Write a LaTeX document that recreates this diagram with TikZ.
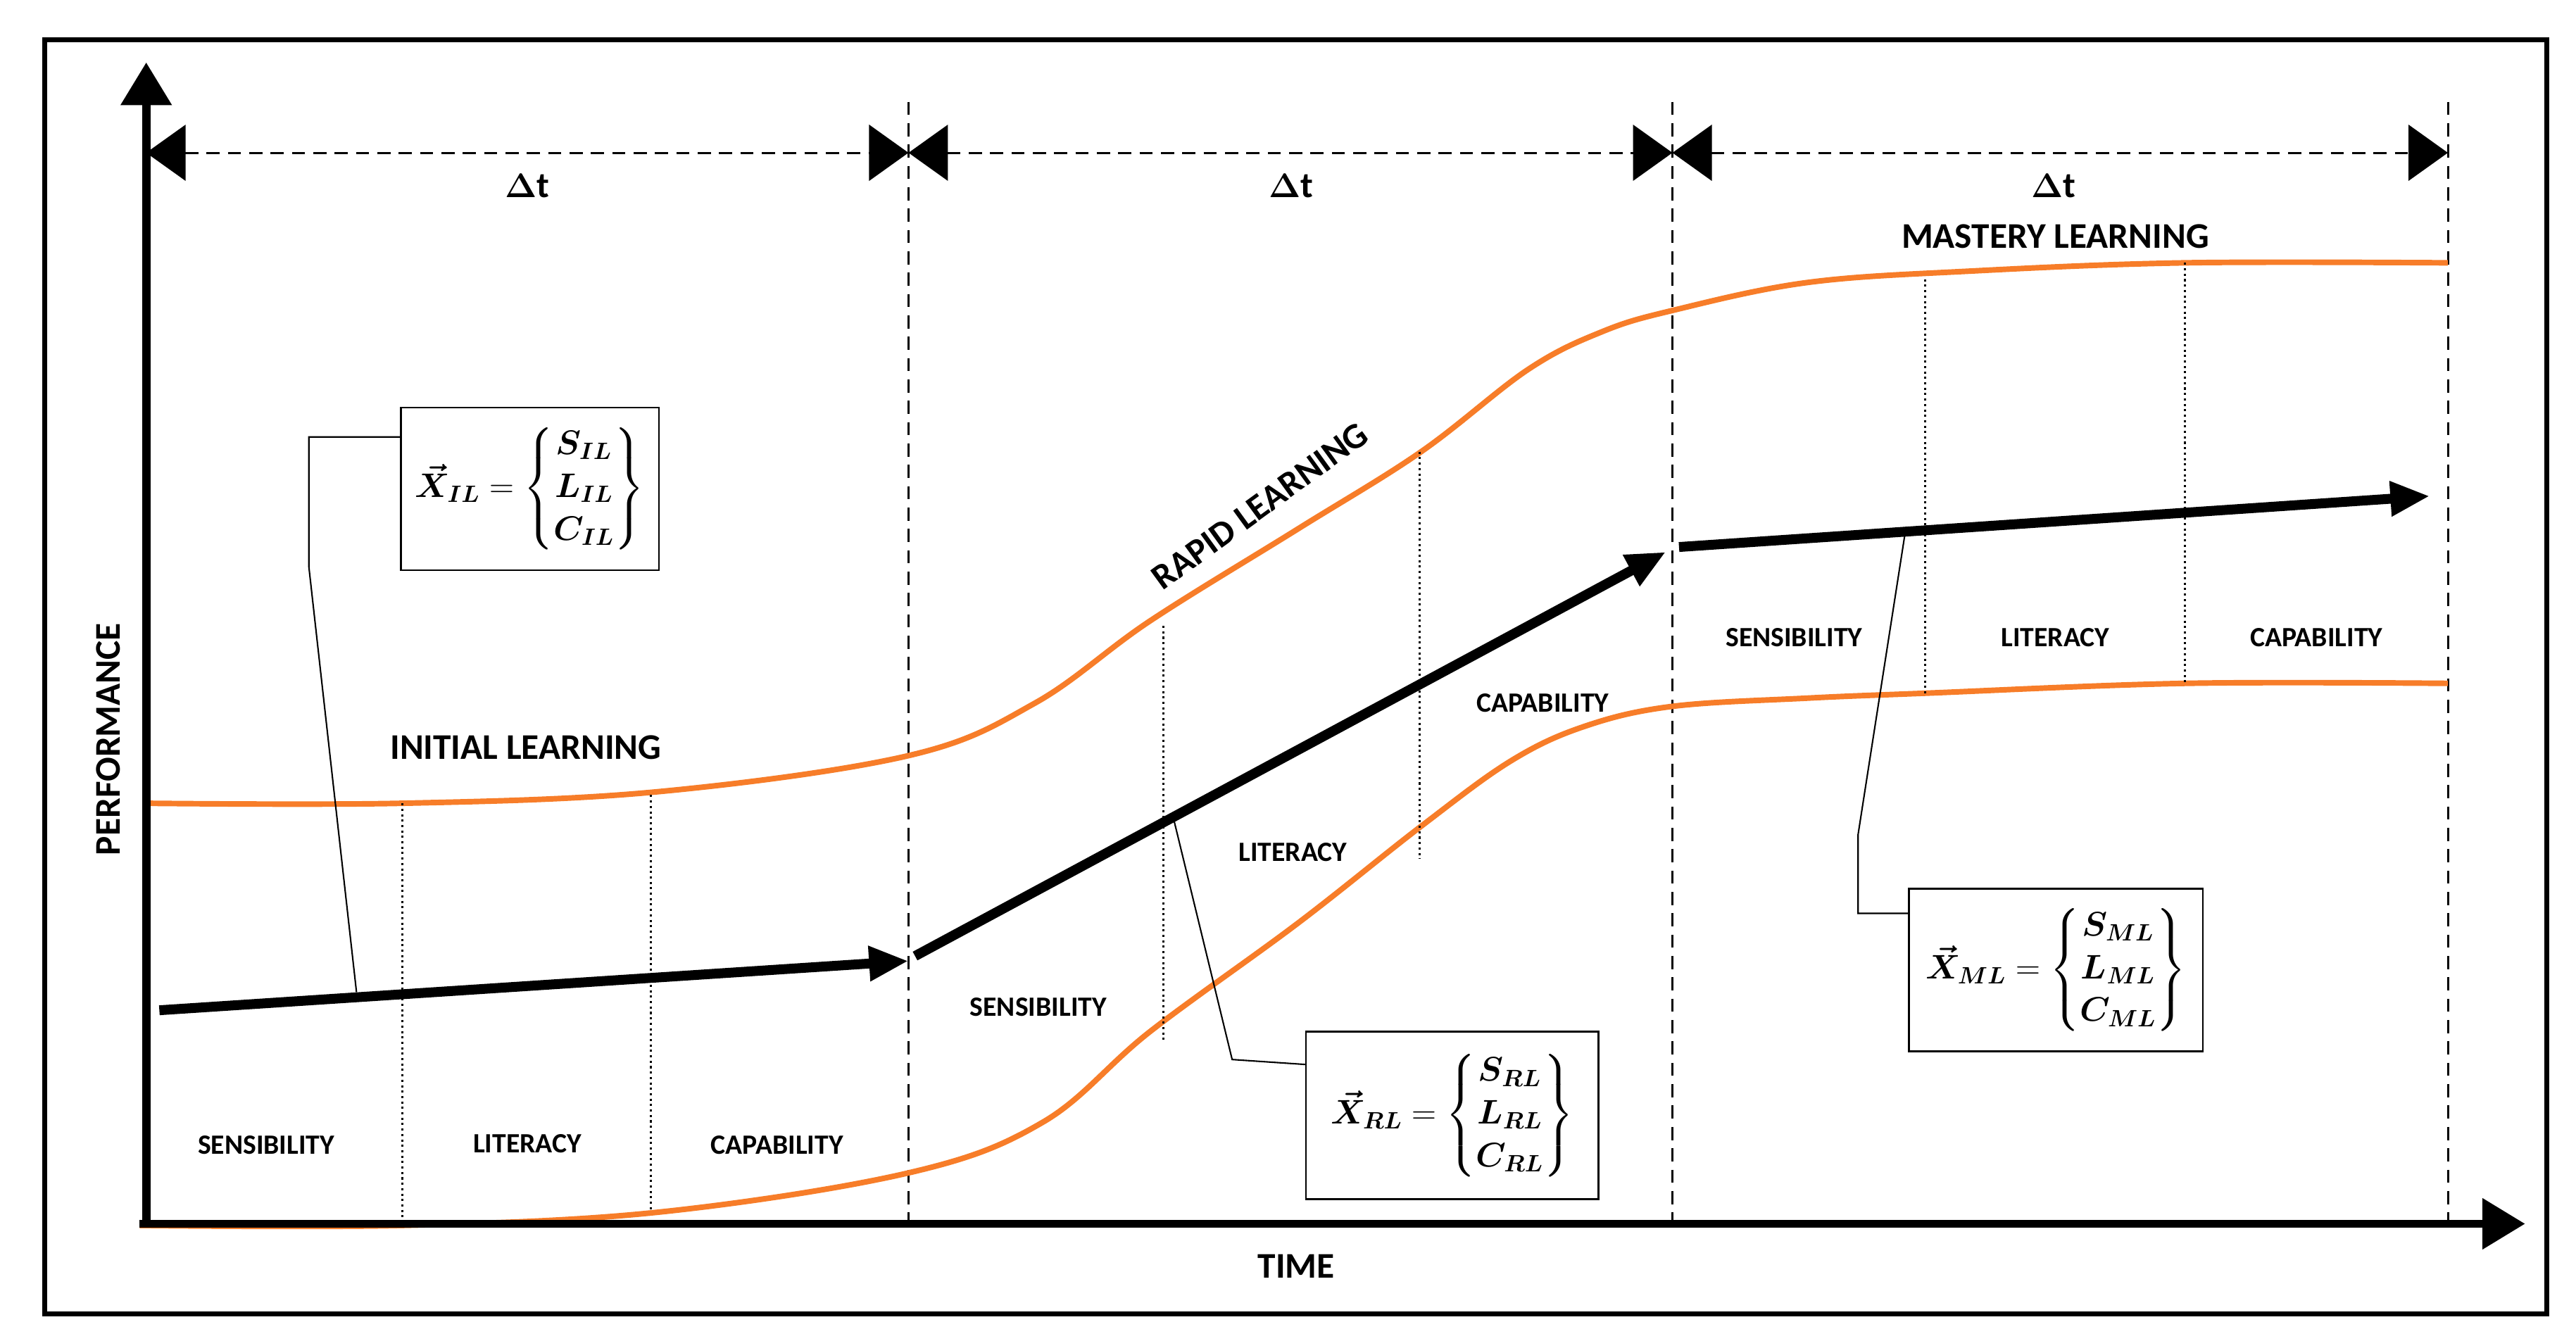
\documentclass[tikz,border=0pt]{standalone}
\usepackage{amsmath,bm}
\usepackage{fontspec}
\setmainfont{Carlito}
\usetikzlibrary{arrows.meta}
\begin{document}
\begin{tikzpicture}[x=1pt,y=-1pt,
 lab/.style={font=\bfseries\fontsize{17}{19}\selectfont},
 big/.style={font=\bfseries\fontsize{22}{25}\selectfont},
 org/.style={draw={rgb,255:red,247;green,125;blue,41},line width=3.4pt},
 dotv/.style={dotted,line width=1.3pt},
 dashv/.style={dashed,line width=1.3pt,dash pattern=on 8pt off 5pt},
 blk/.style={line width=6pt,-{Triangle[length=24pt,width=20pt]}},
 box/.style={draw,line width=1pt,fill=white,inner sep=2pt,font=\fontsize{22}{26}\selectfont},
 call/.style={line width=0.9pt},
 dim/.style={dashv,{Triangle[length=24pt,width=34pt]}-{Triangle[length=24pt,width=34pt]}}]
\useasboundingbox (0,0) rectangle (1568,816);
\draw[line width=3pt] (27,24) rectangle (1550,800);
% dashed verticals
\coordinate (v1t) at (553,62); \coordinate (v1b) at (553,748);
\coordinate (v2t) at (1018,62); \coordinate (v2b) at (1018,748);
\coordinate (v3t) at (1490,62); \coordinate (v3b) at (1490,748);
\draw[dashv] (v1t)--(v1b); \draw[dashv] (v2t)--(v2b); \draw[dashv] (v3t)--(v3b);
% dimension arrows
\coordinate (d0) at (89,93); \coordinate (d1) at (553,93); \coordinate (d2) at (1018,93); \coordinate (d3) at (1490,93);
\draw[dim] (d0)--(d1); \draw[dim] (d1)--(d2); \draw[dim] (d2)--(d3);
\node[big] (dt1) at (321,113) {$\bm\Delta$t};
\node[big] (dt2) at (786,113) {$\bm\Delta$t};
\node[big] (dt3) at (1250,113) {$\bm\Delta$t};
% orange curves
\draw[org] plot[smooth,tension=0.6] coordinates {(89,489) (245,489) (400,482) (553,460) (630,428) (700,378) (790,322) (865,275) (930,225) (975,202) (1018,189) (1100,172) (1200,165) (1330,160) (1490,160)};
\draw[org] plot[smooth,tension=0.6] coordinates {(85,746) (245,746) (400,738) (553,714) (635,683) (700,628) (790,562) (865,503) (920,463) (965,442) (1018,430) (1100,425) (1172,422) (1330,416) (1490,416)};
% dotted verticals
\draw[dotv] (245,489)--(245,745); \draw[dotv] (396,484)--(396,737);
\draw[dotv] (708,381)--(708,633); \draw[dotv] (864,275)--(864,523);
\draw[dotv] (1172,170)--(1172,422); \draw[dotv] (1330,160)--(1330,416);
% axes
\coordinate (o) at (89,745); \coordinate (ytop) at (89,38); \coordinate (xr) at (1537,745); \coordinate (xl) at (85,745);
\draw[line width=5pt,-{Triangle[length=26pt,width=30pt]}] (o)--(ytop);
\draw[line width=5pt,-{Triangle[length=26pt,width=30pt]}] (xl)--(xr);
\node[big,rotate=90] (perf) at (66,450) {PERFORMANCE};
\node[big] (time) at (789,771) {TIME};
% black arrows
\coordinate (a1s) at (97,615); \coordinate (a1e) at (553,585);
\coordinate (a2s) at (557,582); \coordinate (a2e) at (1014,336);
\coordinate (a3s) at (1022,333); \coordinate (a3e) at (1479,302);
\draw[blk] (a1s)--(a1e); \draw[blk] (a2s)--(a2e); \draw[blk] (a3s)--(a3e);
% labels
\node[lab] (s1) at (162,697) {SENSIBILITY};
\node[lab] (l1) at (321,696) {LITERACY};
\node[lab] (c1) at (473,697) {CAPABILITY};
\node[lab] (s2) at (632,613) {SENSIBILITY};
\node[lab] (l2) at (787,519) {LITERACY};
\node[lab] (c2) at (939,428) {CAPABILITY};
\node[lab] (s3) at (1092,388) {SENSIBILITY};
\node[lab] (l3) at (1251,388) {LITERACY};
\node[lab] (c3) at (1410,388) {CAPABILITY};
\node[big] (il) at (320,455) {INITIAL LEARNING};
\node[big,rotate=36] (rl) at (767,308) {RAPID LEARNING};
\node[big] (ml) at (1251,144) {MASTERY LEARNING};
% boxes
\node[box,minimum width=157pt,minimum height=99pt] (bil) at (322.5,297.5) {$\bm{\vec{X}_{IL}}=\begin{Bmatrix}\bm{S_{IL}}\\\bm{L_{IL}}\\\bm{C_{IL}}\end{Bmatrix}$};
\node[box,minimum width=178pt,minimum height=102pt] (brl) at (884,679) {$\bm{\vec{X}_{RL}}=\begin{Bmatrix}\bm{S_{RL}}\\\bm{L_{RL}}\\\bm{C_{RL}}\end{Bmatrix}$};
\node[box,minimum width=179pt,minimum height=99pt] (bml) at (1251.5,590.5) {$\bm{\vec{X}_{ML}}=\begin{Bmatrix}\bm{S_{ML}}\\\bm{L_{ML}}\\\bm{C_{ML}}\end{Bmatrix}$};
% callouts
\coordinate (p1) at (217,604); \coordinate (p2) at (714,497); \coordinate (p3) at (1160,322);
\draw[call] (bil.west |- 0,266) -- (188,266) -- (188,345) -- (p1);
\draw[call] (brl.west |- 0,648) -- (750,645) -- (p2);
\draw[call] (bml.west |- 0,556) -- (1131,556) -- (1131,508) -- (p3);
\end{tikzpicture}
\end{document}
